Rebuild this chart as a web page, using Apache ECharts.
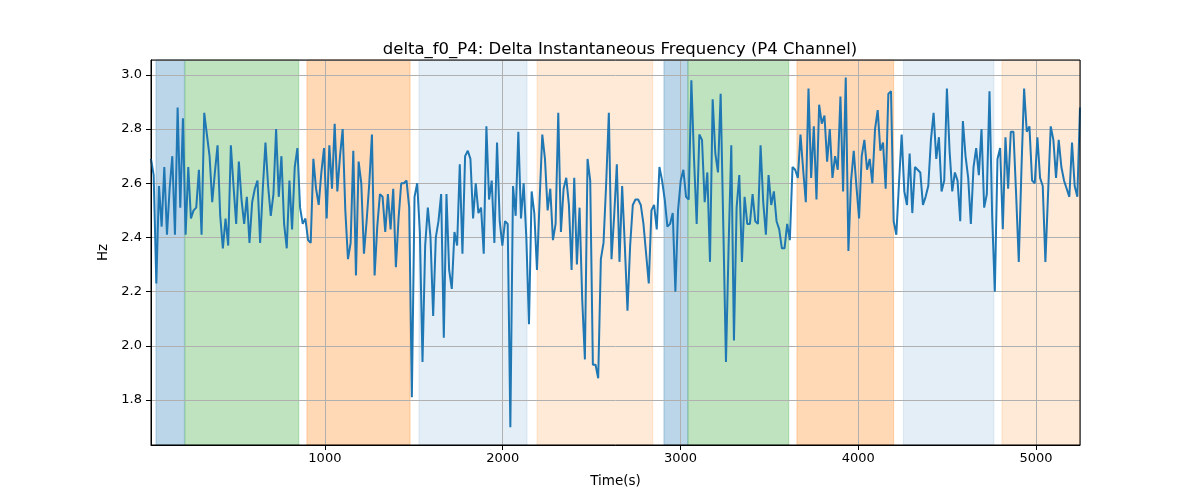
<!DOCTYPE html>
<html>
<head>
<meta charset="utf-8">
<script src="https://cdn.jsdelivr.net/npm/echarts@6/dist/echarts.min.js"></script>
<style>
  html, body { margin: 0; padding: 0; background: #fff; }
  #chart { width: 1200px; height: 500px; }
</style>
</head>
<body>
<div id="chart"></div>
<script>
// ---- Data ----
const titleText = 'delta_f0_P4: Delta Instantaneous Frequency (P4 Channel)';
const xName = 'Time(s)';
const yName = 'Hz';

// time range of the samples (seconds); samples are evenly spaced
const timeStart = 22;
const timeEnd = 5247;

// Hz values, in time order
const hzValues = [
  2.69, 2.63, 2.23, 2.59, 2.44, 2.66, 2.41, 2.58, 2.70, 2.41, 2.88, 2.51, 2.84, 2.41, 2.66, 2.47, 2.50, 2.51, 2.65, 2.41,
  2.86, 2.78, 2.70, 2.53, 2.64, 2.74, 2.48, 2.36, 2.47, 2.37, 2.74, 2.59, 2.45, 2.68, 2.54, 2.45, 2.55, 2.38, 2.53, 2.58,
  2.61, 2.38, 2.58, 2.75, 2.59, 2.48, 2.56, 2.80, 2.55, 2.70, 2.45,
  2.36, 2.61, 2.43, 2.66, 2.73, 2.51, 2.45, 2.47, 2.39, 2.38, 2.69, 2.58, 2.52, 2.64, 2.73, 2.47, 2.74, 2.58, 2.82, 2.57,
  2.70, 2.80, 2.50, 2.32, 2.38, 2.72, 2.26, 2.68, 2.60, 2.34, 2.46, 2.60, 2.78, 2.26, 2.44, 2.56, 2.55, 2.42, 2.56, 2.43,
  2.58, 2.29, 2.47, 2.60, 2.60, 2.61, 2.51, 1.81, 2.55, 2.60,
  2.42, 1.94, 2.37, 2.51, 2.40, 2.11, 2.40, 2.46, 2.56, 2.03, 2.56, 2.28, 2.21, 2.42, 2.37, 2.67, 2.34, 2.70, 2.72, 2.69,
  2.47, 2.60, 2.49, 2.51, 2.34, 2.81, 2.54, 2.61, 2.38, 2.75, 2.46, 2.37, 2.46, 2.45, 1.70, 2.59, 2.48, 2.79, 2.47, 2.60,
  2.40, 2.08, 2.57, 2.49, 2.28, 2.54, 2.78, 2.69, 2.50, 2.58,
  2.39, 2.45, 2.86, 2.42, 2.58, 2.62, 2.52, 2.28, 2.62, 2.30, 2.51, 2.17, 1.95, 2.69, 2.61, 1.93, 1.93, 1.88, 2.32, 2.38,
  2.60, 2.86, 2.32, 2.48, 2.67, 2.31, 2.59, 2.37, 2.13, 2.37, 2.52, 2.54, 2.54, 2.52, 2.45, 2.34, 2.23, 2.50, 2.52, 2.43,
  2.66, 2.61, 2.54, 2.44, 2.45, 2.49, 2.20, 2.50, 2.61, 2.65,
  2.55, 2.54, 2.98, 2.69, 2.45, 2.78, 2.76, 2.53, 2.64, 2.31, 2.91, 2.71, 2.64, 2.93, 2.44, 1.94, 2.37, 2.74, 2.02, 2.51,
  2.63, 2.31, 2.55, 2.45, 2.45, 2.56, 2.46, 2.45, 2.74, 2.53, 2.41, 2.63, 2.52, 2.57, 2.46, 2.43, 2.36, 2.36, 2.45, 2.39,
  2.66, 2.65, 2.62, 2.78, 2.65, 2.53, 2.95, 2.62, 2.81, 2.54,
  2.89, 2.82, 2.85, 2.68, 2.80, 2.62, 2.70, 2.65, 2.92, 2.57, 2.99, 2.35, 2.61, 2.72, 2.59, 2.47, 2.70, 2.76, 2.65, 2.69,
  2.60, 2.80, 2.87, 2.72, 2.75, 2.58, 2.93, 2.94, 2.46, 2.41, 2.60, 2.78, 2.57, 2.52, 2.71, 2.49, 2.66, 2.65, 2.64, 2.52,
  2.55, 2.59, 2.76, 2.86, 2.69, 2.77, 2.57, 2.61, 2.95, 2.72,
  2.57, 2.64, 2.61, 2.46, 2.83, 2.70, 2.62, 2.45, 2.66, 2.73, 2.63, 2.80, 2.51, 2.56, 2.94, 2.48, 2.20, 2.69, 2.73, 2.43,
  2.77, 2.58, 2.79, 2.79, 2.56, 2.31, 2.65, 2.95, 2.79, 2.81, 2.61, 2.60, 2.77, 2.62, 2.59, 2.31, 2.56, 2.81, 2.76, 2.62,
  2.76, 2.66, 2.61, 2.58, 2.55, 2.75, 2.59, 2.55, 2.88
];

// shaded phases: start time, end time, kind
const spanStarts = [50, 213, 899, 1529, 2193, 2907, 3042, 3655, 4254, 4808];
const spanEnds   = [210, 853, 1479, 2137, 2844, 3041, 3609, 4199, 4763, 5247];
const spanKinds  = ['blue', 'green', 'orange', 'lightblue', 'lightorange',
                    'blue', 'green', 'orange', 'lightblue', 'lightorange'];

// axis ranges
const xMin = timeStart, xMax = timeEnd;
const yMin = 1.634, yMax = 3.055;

// ---- Styles ----
const spanColors = {
  blue: 'rgba(31,119,180,0.3)',
  green: 'rgba(44,160,44,0.3)',
  orange: 'rgba(255,127,14,0.3)',
  lightblue: 'rgba(31,119,180,0.12)',
  lightorange: 'rgba(255,127,14,0.16)'
};

const n = hzValues.length;
const dt = (timeEnd - timeStart) / (n - 1);
const lineData = hzValues.map((v, i) => [timeStart + i * dt, v]);

const areaData = spanStarts.map((s, i) => [
  { xAxis: s, itemStyle: { color: spanColors[spanKinds[i]], borderColor: spanColors[spanKinds[i]], borderWidth: 1 } },
  { xAxis: spanEnds[i] }
]);

const FONT = 'DejaVu Sans';
const chart = echarts.init(document.getElementById('chart'), null, { renderer: 'canvas' });
chart.setOption({
  animation: false,
  backgroundColor: '#ffffff',
  title: {
    text: titleText,
    left: 615,
    textAlign: 'center',
    top: 36,
    textStyle: { fontFamily: FONT, fontSize: 16.5, fontWeight: 'normal', color: '#000' }
  },
  grid: {
    left: 151, right: 120, top: 60, bottom: 55, z: 10,
    show: true, borderColor: '#000', borderWidth: 1, backgroundColor: 'transparent'
  },
  xAxis: {
    type: 'value',
    z: 2,
    min: xMin, max: xMax,
    splitNumber: 5,
    name: xName,
    nameLocation: 'middle',
    nameGap: 29,
    nameTextStyle: { fontFamily: FONT, fontSize: 13.5, color: '#000' },
    axisLine: { show: true, lineStyle: { color: '#000', width: 1 } },
    axisTick: { show: true, length: 5, lineStyle: { color: '#000', width: 1 } },
    axisLabel: { showMinLabel: false, showMaxLabel: false, margin: 7,
      fontFamily: FONT, fontSize: 13, color: '#000',
      formatter: v => String(Math.round(v)) },
    splitLine: { show: true, lineStyle: { color: '#b0b0b0', width: 1 } }
  },
  yAxis: {
    type: 'value',
    z: 2,
    min: yMin, max: yMax,
    splitNumber: 7,
    name: yName,
    nameLocation: 'middle',
    nameGap: 40,
    nameTextStyle: { fontFamily: FONT, fontSize: 13.5, color: '#000' },
    axisLine: { show: true, lineStyle: { color: '#000', width: 1 } },
    axisTick: { show: true, length: 5, lineStyle: { color: '#000', width: 1 } },
    axisLabel: { showMinLabel: false, showMaxLabel: false, margin: 9,
      fontFamily: FONT, fontSize: 13, color: '#000',
      formatter: v => v.toFixed(1) },
    splitLine: { show: true, lineStyle: { color: '#b0b0b0', width: 1 } }
  },
  series: [
    {
      type: 'line',
      name: 'phases',
      data: [],
      z: 1,
      silent: true,
      markArea: { silent: true, data: areaData }
    },
    {
      type: 'line',
      name: 'delta_f0',
      data: lineData,
      showSymbol: false,
      symbol: 'none',
      lineStyle: { color: '#1f77b4', width: 2 },
      itemStyle: { color: '#1f77b4' },
      z: 3
    }
  ]
});
</script>
</body>
</html>
